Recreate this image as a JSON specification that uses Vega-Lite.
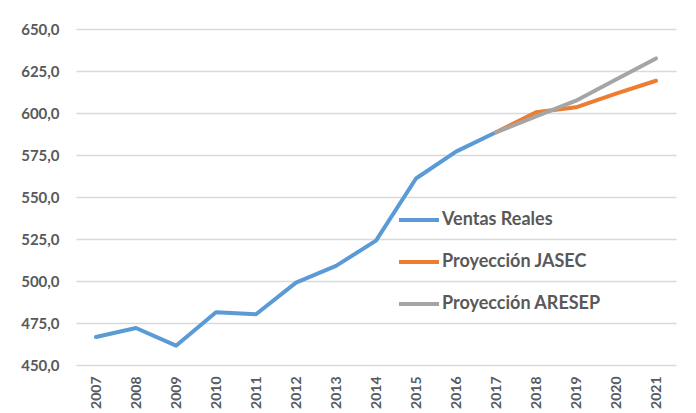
{
  "$schema": "https://vega.github.io/schema/vega-lite/v6.json",
  "width": 600,
  "height": 336,
  "autosize": {"type": "none"},
  "padding": {"left": 76, "top": 29, "right": 20, "bottom": 48},
  "background": "white",
  "config": {
    "view": {"stroke": null},
    "font": "Lato"
  },
  "data": {
    "values": [
      {"year": "2007", "series": "Ventas Reales", "value": 466.7},
      {"year": "2008", "series": "Ventas Reales", "value": 472.0},
      {"year": "2009", "series": "Ventas Reales", "value": 461.5},
      {"year": "2010", "series": "Ventas Reales", "value": 481.4},
      {"year": "2011", "series": "Ventas Reales", "value": 480.2},
      {"year": "2012", "series": "Ventas Reales", "value": 499.0},
      {"year": "2013", "series": "Ventas Reales", "value": 509.0},
      {"year": "2014", "series": "Ventas Reales", "value": 524.0},
      {"year": "2015", "series": "Ventas Reales", "value": 561.0},
      {"year": "2016", "series": "Ventas Reales", "value": 577.0},
      {"year": "2017", "series": "Ventas Reales", "value": 588.5},
      {"year": "2017", "series": "Proyección JASEC", "value": 588.5},
      {"year": "2018", "series": "Proyección JASEC", "value": 600.4},
      {"year": "2019", "series": "Proyección JASEC", "value": 603.4},
      {"year": "2020", "series": "Proyección JASEC", "value": 611.5},
      {"year": "2021", "series": "Proyección JASEC", "value": 619.2},
      {"year": "2017", "series": "Proyección ARESEP", "value": 588.5},
      {"year": "2018", "series": "Proyección ARESEP", "value": 598.0},
      {"year": "2019", "series": "Proyección ARESEP", "value": 607.3},
      {"year": "2020", "series": "Proyección ARESEP", "value": 620.0},
      {"year": "2021", "series": "Proyección ARESEP", "value": 632.5}
    ]
  },
  "mark": {"type": "line", "strokeWidth": 4, "strokeCap": "round", "strokeJoin": "round"},
  "encoding": {
    "x": {
      "field": "year",
      "type": "ordinal",
      "scale": {"type": "point", "padding": 0.5},
      "axis": {
        "title": null,
        "labelAngle": 270,
        "labelAlign": "right",
        "labelBaseline": "middle",
        "labelFont": "Lato",
        "labelFontSize": 14,
        "labelFontWeight": "bold",
        "labelColor": "#595959",
        "labelPadding": 11,
        "ticks": false,
        "domain": false,
        "grid": false
      }
    },
    "y": {
      "field": "value",
      "type": "quantitative",
      "scale": {"domain": [450, 650], "nice": false, "zero": false},
      "axis": {
        "title": null,
        "values": [450, 475, 500, 525, 550, 575, 600, 625, 650],
        "labelExpr": "replace(format(datum.value, '.1f'), '.', ',')",
        "labelFont": "Lato",
        "labelFontSize": 15,
        "labelFontWeight": "bold",
        "labelColor": "#595959",
        "labelPadding": 17,
        "ticks": false,
        "domain": false,
        "grid": true,
        "gridColor": "#d9d9d9",
        "gridWidth": 1.5
      }
    },
    "color": {
      "field": "series",
      "type": "nominal",
      "scale": {
        "domain": ["Ventas Reales", "Proyección JASEC", "Proyección ARESEP"],
        "range": ["#5b9bd5", "#ed7d31", "#a5a5a5"]
      },
      "legend": {
        "title": null,
        "orient": "none",
        "legendX": 321,
        "legendY": 169,
        "symbolType": "stroke",
        "symbolSize": 1600,
        "symbolStrokeWidth": 4,
        "labelFont": "Lato",
        "labelFontSize": 18,
        "labelFontWeight": "bold",
        "labelColor": "#595959",
        "labelOffset": 1,
        "rowPadding": 11
      }
    },
    "order": {"field": "year"}
  }
}
